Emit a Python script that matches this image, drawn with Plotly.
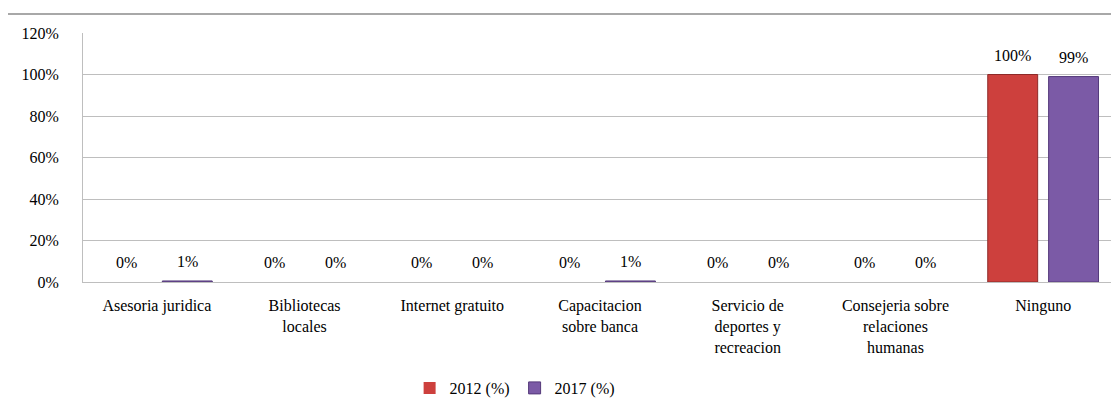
import plotly.graph_objects as go

CATEGORIES = [
    "Asesoria juridica",
    "Bibliotecas<br>locales",
    "Internet gratuito",
    "Capacitacion<br>sobre banca",
    "Servicio de<br>deportes y<br>recreacion",
    "Consejeria sobre<br>relaciones<br>humanas",
    "Ninguno",
]
VALS_2012 = [0.0, 0.0, 0.0, 0.0, 0.0, 0.0, 1.00]
VALS_2017 = [0.005, 0.0, 0.0, 0.005, 0.0, 0.0, 0.99]
LABELS_2012 = ["0%", "0%", "0%", "0%", "0%", "0%", "100%"]
LABELS_2017 = ["1%", "0%", "0%", "1%", "0%", "0%", "99%"]

RED = "#CD403D"
RED_EDGE = "#8E2A28"
PURPLE = "#7B5AA6"
PURPLE_EDGE = "#54397A"
FONT = "Liberation Serif, Times New Roman, DejaVu Serif, serif"
GRID = "#BEBEBE"

fig = go.Figure()
for name, vals, color, edge in [
    ("2012 (%)", VALS_2012, RED, RED_EDGE),
    ("2017 (%)", VALS_2017, PURPLE, PURPLE_EDGE),
]:
    fig.add_trace(go.Bar(
        x=CATEGORIES, y=vals, name=name,
        marker=dict(color=color,
                    line=dict(color=edge, width=[1 if v > 0 else 0 for v in vals])),
        hoverinfo="x+y",
    ))

# value labels sit a bit higher above the bars than plotly's outside text does
for labels, vals, shift in [(LABELS_2012, VALS_2012, -30.5), (LABELS_2017, VALS_2017, 30.5)]:
    for cat, v, lab in zip(CATEGORIES, vals, labels):
        fig.add_annotation(
            x=cat, y=v, text=lab, showarrow=False,
            xshift=shift, yshift=9, yanchor="bottom",
            font=dict(family=FONT, size=16, color="#000"),
        )

# page body adds an 8px offset, so the figure is shrunk by that much
fig.update_layout(
    width=1111, height=400,
    paper_bgcolor="white", plot_bgcolor="white",
    margin=dict(l=75, r=2, t=25, b=126),
    font=dict(family=FONT, size=16, color="#000"),
    barmode="group", bargap=0.176, bargroupgap=0.18,
    legend=dict(
        orientation="h", xref="container", yref="container",
        xanchor="center", x=0.456, yanchor="middle", y=0.05,
        font=dict(family=FONT, size=16), traceorder="normal",
        itemwidth=30, tracegroupgap=0,
    ),
    showlegend=True,
)
fig.update_yaxes(
    range=[0, 1.2], dtick=0.2, tickformat=".0%",
    showgrid=True, gridcolor=GRID, gridwidth=1,
    showline=True, linecolor=GRID, zeroline=False,
    ticklabelstandoff=20, tickfont=dict(family=FONT, size=16),
)
fig.update_xaxes(
    showline=True, linecolor=GRID, tickangle=0,
    ticklabelstandoff=9, tickfont=dict(family=FONT, size=16),
)
# outer chart frame
fig.add_shape(
    type="rect", xref="paper", yref="paper",
    x0=-0.0735, x1=1.05, y0=-0.6, y1=1.076,
    line=dict(color="#8C8C8C", width=1.5), layer="below",
)

fig.write_html("out.html")
